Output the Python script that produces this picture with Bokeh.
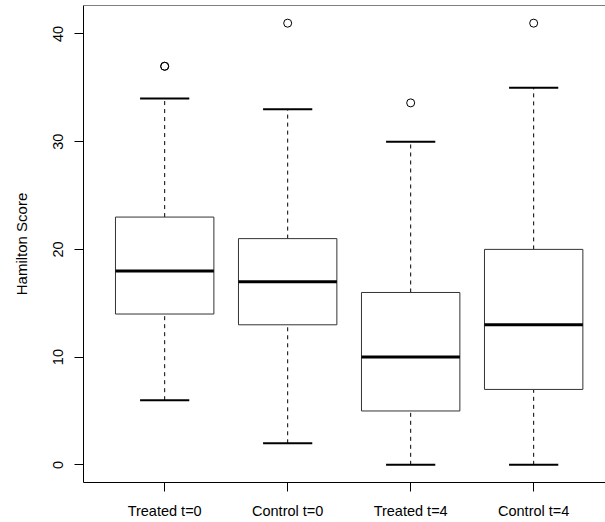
from bokeh.plotting import figure
from bokeh.models import Range1d, FixedTicker, ColumnDataSource, Span
from bokeh.embed import file_html
from bokeh.resources import INLINE

categories = ["Treated t=0", "Control t=0", "Treated t=4", "Control t=4"]
whisker_low = [6, 2, 0, 0]
q1 = [14, 13, 5, 7]
median = [18, 17, 10, 13]
q3 = [23, 21, 16, 20]
whisker_high = [34, 33, 30, 35]
outlier_group = [1, 1, 2, 3, 4]
outlier_value = [37, 37, 41, 33.6, 41]
y_ticks = [0, 10, 20, 30, 40]

xs = list(range(1, len(categories) + 1))
box_w = 0.8
cap_w = 0.4
y_lo, y_hi = -1.64, 42.64

p = figure(width=605, height=522, output_backend="svg", toolbar_location=None,
           x_range=Range1d(0.34, 4.584), y_range=Range1d(y_lo, y_hi),
           min_border_left=83, min_border_right=0, min_border_top=5, min_border_bottom=40)
p.grid.visible = False
p.background_fill_color = "white"
p.border_fill_color = "white"
p.outline_line_color = None
# top edge of the plot box (right edge lies outside the picture)
p.add_layout(Span(location=y_hi, dimension="width", line_color="black", line_width=1))

src = ColumnDataSource(dict(x=xs, lo=whisker_low, q1=q1, med=median, q3=q3, hi=whisker_high,
                            xl=[x - box_w / 2 for x in xs], xr=[x + box_w / 2 for x in xs],
                            cl=[x - cap_w / 2 for x in xs], cr=[x + cap_w / 2 for x in xs]))

# whiskers (dashed)
p.segment(x0="x", y0="q3", x1="x", y1="hi", source=src, line_color="black", line_width=1, line_dash="4 4")
p.segment(x0="x", y0="lo", x1="x", y1="q1", source=src, line_color="black", line_width=1, line_dash="4 4")
# staples
p.segment(x0="cl", y0="hi", x1="cr", y1="hi", source=src, line_color="black", line_width=2)
p.segment(x0="cl", y0="lo", x1="cr", y1="lo", source=src, line_color="black", line_width=2)
# boxes
p.quad(left="xl", right="xr", bottom="q1", top="q3", source=src, fill_color="white",
       line_color="#333333", line_width=1)
# medians
p.segment(x0="xl", y0="med", x1="xr", y1="med", source=src, line_color="black", line_width=3)
# outliers
p.scatter(x=outlier_group, y=outlier_value, marker="circle", size=8, fill_color=None,
          line_color="black", line_width=1)

for ax in (p.xaxis[0], p.yaxis[0]):
    ax.axis_line_color = "black"
    ax.major_tick_line_color = "black"
    ax.minor_tick_line_color = None
    ax.major_tick_in = 0
    ax.major_tick_out = 9
    ax.major_label_text_font = "Liberation Sans"
    ax.major_label_text_font_size = "14.5px"
    ax.major_label_text_color = "black"
    ax.major_label_standoff = 11

p.xaxis.ticker = FixedTicker(ticks=xs)
p.xaxis.major_label_overrides = {x: c for x, c in zip(xs, categories)}
p.yaxis.ticker = FixedTicker(ticks=y_ticks)
p.yaxis.major_label_orientation = "vertical"
p.yaxis.axis_label = "Hamilton Score"
p.yaxis.axis_label_text_font = "Liberation Sans"
p.yaxis.axis_label_text_font_size = "15px"
p.yaxis.axis_label_text_font_style = "normal"
p.yaxis.axis_label_text_color = "black"
p.yaxis.axis_label_standoff = 21

open("out.html", "w").write(file_html(p, INLINE))
